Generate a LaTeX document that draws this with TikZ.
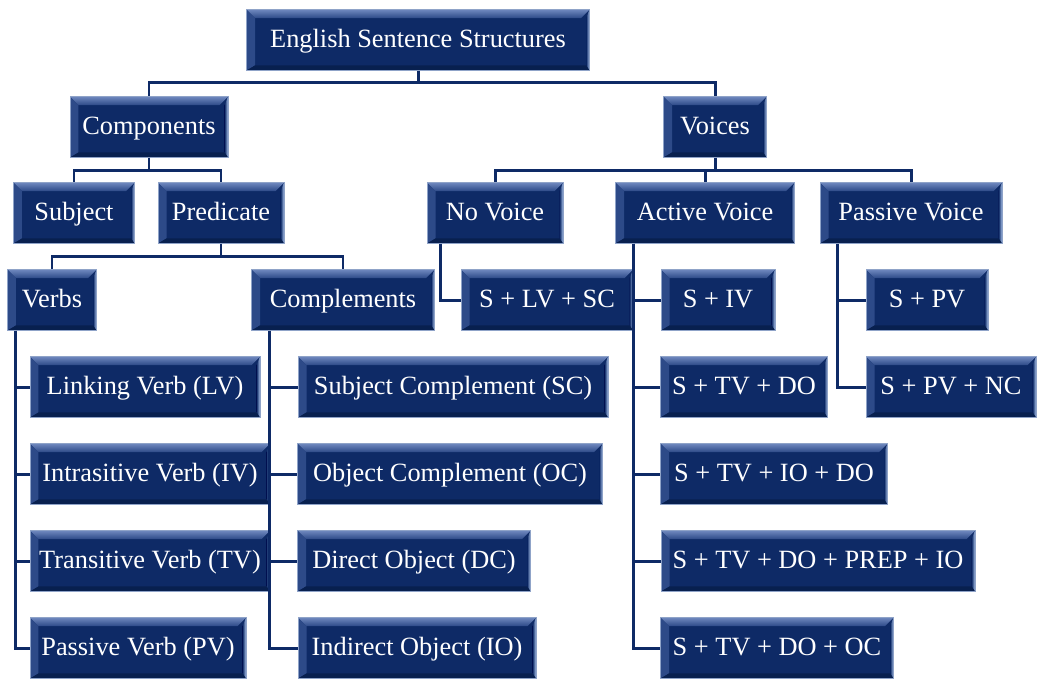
\documentclass[tikz,border=0pt]{standalone}
\usepackage{fontspec}
\setmainfont{Liberation Serif}
\usetikzlibrary{calc}
\definecolor{navy}{HTML}{0E2A66}
\definecolor{navylight}{HTML}{6F88BE}
\definecolor{navymid}{HTML}{2D4A88}
\definecolor{navyhigh}{HTML}{A9C2EA}
\definecolor{navydark}{HTML}{08204F}
\definecolor{boxedge}{HTML}{8FA3C8}
\newcommand{\bv}{0.17cm}
\begin{document}
\begin{tikzpicture}[x=0.02cm,y=-0.02cm]
	\tikzset{tilebox/.style = {shape=rectangle,draw=boxedge,line width=0.5pt,fill=navy,text=white,
			font=\fontsize{15}{18}\selectfont,minimum height=1.22cm,inner sep=0pt,
			text height=11.5pt,text depth=3.5pt,
			path picture={
				\coordinate (nw) at (path picture bounding box.north west);
				\coordinate (ne) at (path picture bounding box.north east);
				\coordinate (sw) at (path picture bounding box.south west);
				\coordinate (se) at (path picture bounding box.south east);
				\shade[top color=navylight,bottom color=navymid] (nw) -- (ne) -- ([xshift=-\bv,yshift=-\bv]ne) -- ([xshift=\bv,yshift=-\bv]nw) -- cycle;
				\fill[navymid] (nw) -- ([xshift=\bv,yshift=-\bv]nw) -- ([xshift=\bv,yshift=0.6*\bv]sw) -- (sw) -- cycle;
				\shade[left color=navy,right color=navyhigh] (ne) -- (se) -- ([xshift=-0.4*\bv,yshift=0.6*\bv]se) -- ([xshift=-0.4*\bv,yshift=-\bv]ne) -- cycle;
				\fill[navydark] (sw) -- (se) -- ([xshift=-0.4*\bv,yshift=0.6*\bv]se) -- ([xshift=\bv,yshift=0.6*\bv]sw) -- cycle;
			}}}
	\tikzset{boxw/.style = {minimum width=#1*0.02cm}}
	\tikzset{link/.style = {draw=navy,line width=1.7pt}}
	\useasboundingbox (0,0) rectangle (1037,681);
	% top levels
	\node[tilebox,boxw=343] (root) at (418,40) {English Sentence Structures};
	\node[tilebox,boxw=158] (comp) at (149,127) {Components};
	\node[tilebox,boxw=103] (voices) at (715,127) {Voices};
	\node[tilebox,boxw=121] (subj) at (74,213) {Subject};
	\node[tilebox,boxw=126] (pred) at (221,213) {Predicate};
	\node[tilebox,boxw=136] (novoice) at (495,213) {No Voice};
	\node[tilebox,boxw=179] (active) at (705,213) {Active Voice};
	\node[tilebox,boxw=182] (passive) at (911,213) {Passive Voice};
	\node[tilebox,boxw=89] (verbs) at (52,300) {Verbs};
	\node[tilebox,boxw=183] (compl) at (343,300) {Complements};
	% verbs and complements
	\node[tilebox,boxw=230] (lv) at (145,387) {Linking Verb (LV)};
	\node[tilebox,boxw=240] (iv) at (150,474) {Intrasitive Verb (IV)};
	\node[tilebox,boxw=240] (tv) at (150,561) {Transitive Verb (TV)};
	\node[tilebox,boxw=216] (pv) at (138,648) {Passive Verb (PV)};
	\node[tilebox,boxw=310] (sc) at (453,387) {Subject Complement (SC)};
	\node[tilebox,boxw=305] (oc) at (450,474) {Object Complement (OC)};
	\node[tilebox,boxw=233] (dc) at (414,561) {Direct Object (DC)};
	\node[tilebox,boxw=238] (io) at (417,648) {Indirect Object (IO)};
	% patterns
	\node[tilebox,boxw=172] (slvsc) at (547,300) {S + LV + SC};
	\node[tilebox,boxw=114] (siv) at (718,300) {S + IV};
	\node[tilebox,boxw=167] (stvdo) at (744,387) {S + TV + DO};
	\node[tilebox,boxw=227] (stviodo) at (774,474) {S + TV + IO + DO};
	\node[tilebox,boxw=314] (stvprep) at (818,561) {S + TV + DO + PREP + IO};
	\node[tilebox,boxw=233] (stvdooc) at (777,648) {S + TV + DO + OC};
	\node[tilebox,boxw=122] (spv) at (927,300) {S + PV};
	\node[tilebox,boxw=170] (spvnc) at (951,387) {S + PV + NC};
	% tree links
	\draw[link] (root.south) -- ++(0,12) -| (comp.north);
	\draw[link] (root.south) -- ++(0,12) -| (voices.north);
	\draw[link] (comp.south) -- ++(0,13) -| (subj.north);
	\draw[link] (comp.south) -- ++(0,13) -| (pred.north);
	\draw[link] (voices.south) -- ++(0,13) -| (novoice.north);
	\draw[link] (voices.south) -- ++(0,13) -| (active.north);
	\draw[link] (voices.south) -- ++(0,13) -| (passive.north);
	\draw[link] (pred.south) -- ++(0,13) -| (verbs.north);
	\draw[link] (pred.south) -- ++(0,13) -| (compl.north);
	\foreach \kid in {lv,iv,tv,pv}
		\draw[link] ([xshift=0.17cm]verbs.south west) |- (\kid.west);
	\foreach \kid in {sc,oc,dc,io}
		\draw[link] ([xshift=0.36cm]compl.south west) |- (\kid.west);
	\draw[link] ([xshift=0.28cm]novoice.south west) |- (slvsc.west);
	\foreach \kid in {siv,stvdo,stviodo,stvprep,stvdooc}
		\draw[link] ([xshift=0.36cm]active.south west) |- (\kid.west);
	\foreach \kid in {spv,spvnc}
		\draw[link] ([xshift=0.36cm]passive.south west) |- (\kid.west);
\end{tikzpicture}
\end{document}
